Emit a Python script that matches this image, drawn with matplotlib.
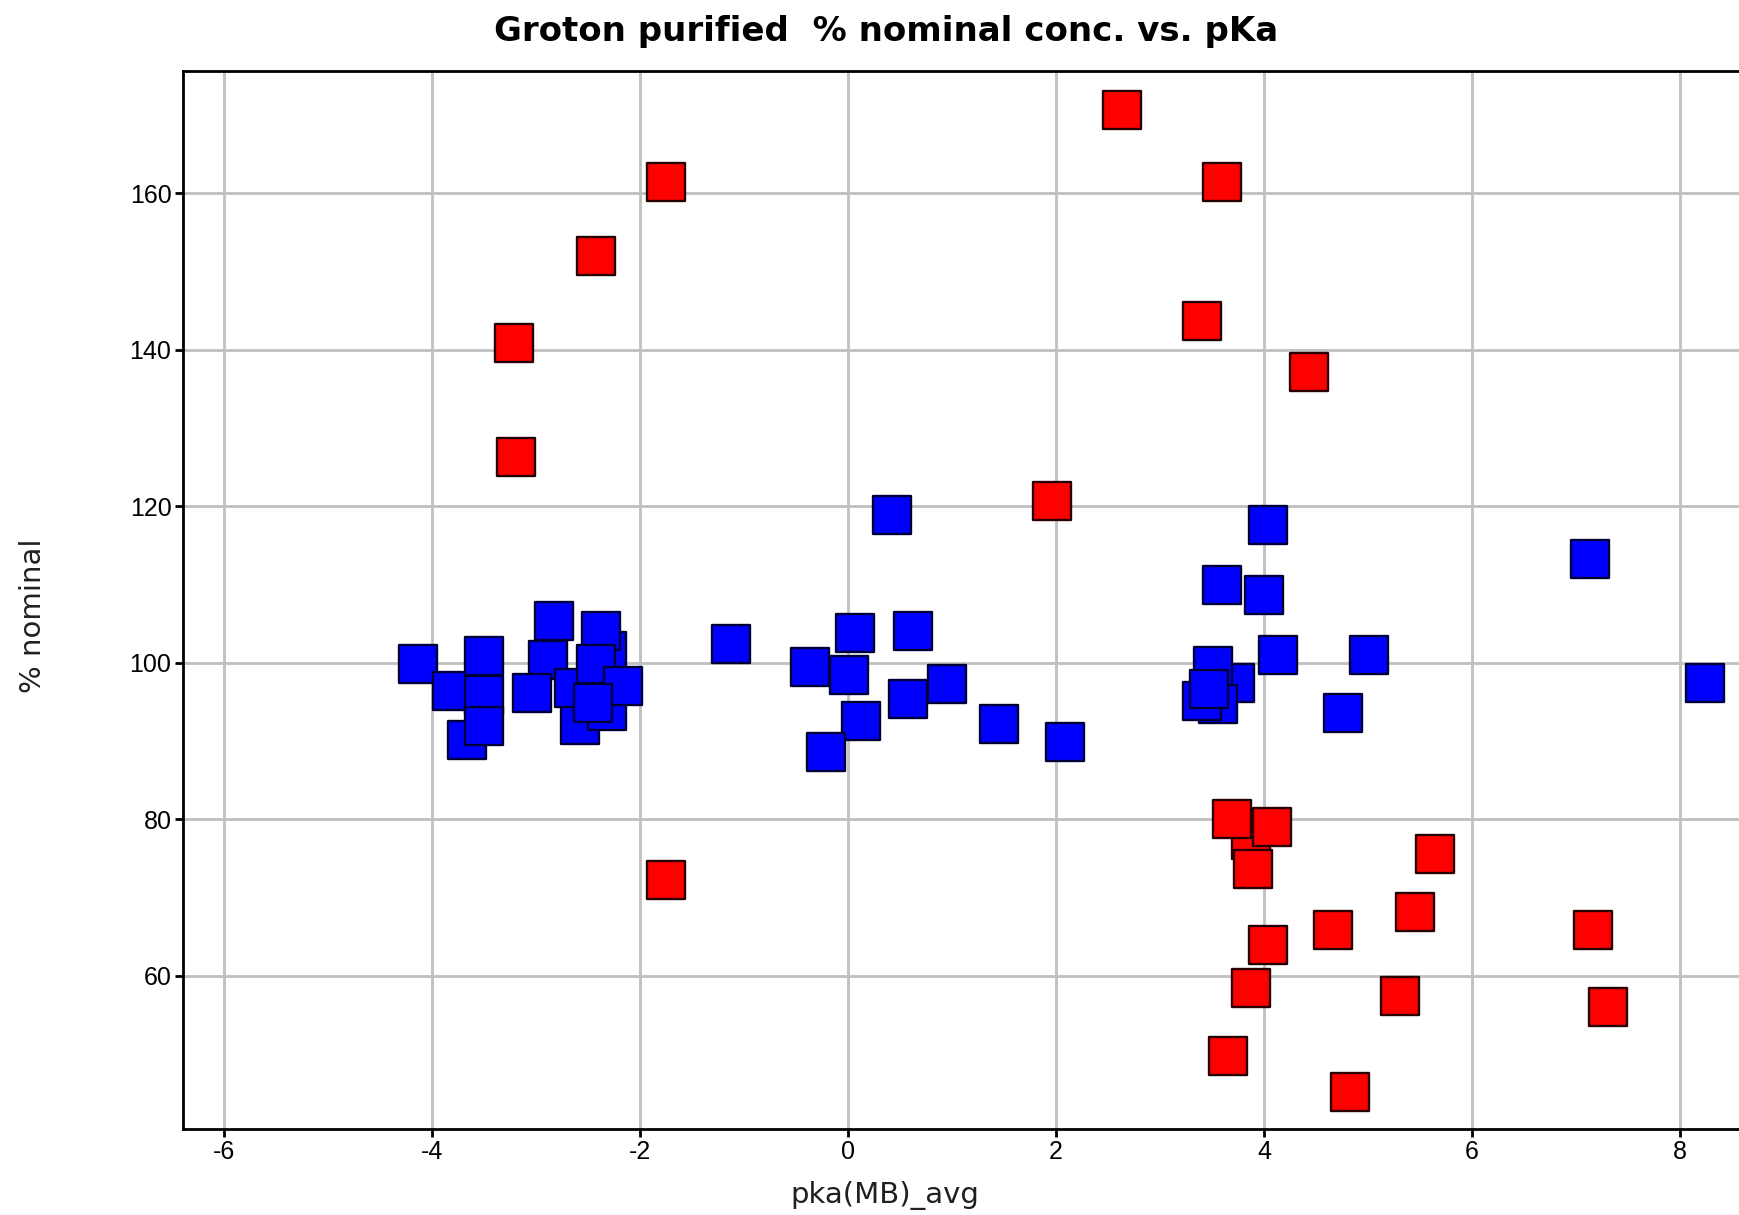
import matplotlib
matplotlib.use("Agg")
import matplotlib.pyplot as plt

# ---- data ----
blue_x = [-4.14, -3.81, -3.50, -3.50, -3.66, -3.50, -2.83, -2.89, -3.04,
          -2.32, -2.38, -2.58, -2.32, -2.64, -2.42, -2.16, -2.45,
          -1.13, -0.37, 0.01, 0.07, 0.12, -0.21, 0.42, 0.62, 0.58, 0.95, 1.45, 2.09,
          4.04, 3.60, 4.00, 4.13, 5.01, 4.76,
          3.72, 3.56, 3.51, 3.40, 3.47, 7.13, 8.24]
blue_y = [99.9, 96.4, 100.9, 95.9, 90.1, 91.9, 105.4, 100.4, 96.2,
          101.5, 104.1, 92.1, 93.8, 96.8, 99.8, 97.0, 94.9,
          102.4, 99.4, 98.5, 103.8, 92.5, 88.6, 118.9, 104.1, 95.4, 97.3, 92.2, 89.9,
          117.6, 109.9, 108.6, 101.0, 101.0, 93.6,
          97.4, 94.7, 99.6, 95.1, 96.7, 113.3, 97.4]

red_x = [2.63, 3.60, -1.75, -2.42, -3.21, -3.19, 3.40, 4.43, 1.96, -1.75,
         3.87, 3.69, 4.08, 3.89, 5.64, 5.45, 4.66, 4.04, 3.87, 5.31, 3.65, 4.83,
         7.16, 7.31]
red_y = [170.6, 161.4, 161.4, 152.0, 140.8, 126.3, 143.7, 137.1, 120.7, 72.3,
         77.4, 80.1, 79.0, 73.7, 75.6, 68.2, 65.8, 64.0, 58.4, 57.4, 49.8, 45.2,
         65.8, 56.0]

x_ticks = [-6, -4, -2, 0, 2, 4, 6, 8]
y_ticks = [60, 80, 100, 120, 140, 160]

title = "Groton purified  % nominal conc. vs. pKa"
x_label = "pka(MB)_avg"
y_label = "% nominal"

# ---- figure ----
W, H = 1739, 1215
fig = plt.figure(figsize=(W / 100, H / 100), dpi=100)
ax = fig.add_axes([182.5 / W, 1 - 1129.3 / H, (W - 182.5) / W, (1129.3 - 71) / H])

ax.set_xlim(-6.40, 8.567)
ax.set_ylim(40.4, 175.6)

ax.set_axisbelow(True)
ax.grid(True, color="#c0c0c0", linewidth=2.0)

msize = 740
ax.scatter(blue_x, blue_y, s=msize, marker="s", facecolor="#0000ff",
           edgecolor="#000038", linewidths=1.7, zorder=3)
ax.scatter(red_x, red_y, s=msize, marker="s", facecolor="#ff0000",
           edgecolor="#280000", linewidths=1.7, zorder=3)

ax.set_xticks(x_ticks)
ax.set_yticks(y_ticks)
ax.set_xticklabels([str(t) for t in x_ticks], family="Liberation Sans", fontsize=18)
ax.set_yticklabels([str(t) for t in y_ticks], family="Liberation Sans", fontsize=18)
ax.tick_params(direction="out", length=6, width=2, color="black", pad=2)

for side in ("left", "bottom", "top"):
    ax.spines[side].set_linewidth(2)
    ax.spines[side].set_color("black")
ax.spines["right"].set_visible(False)

fig.text(886 / W, 1 - 31 / H, title, ha="center", va="center",
         family="DejaVu Sans", fontweight="bold", fontsize=24.5)
fig.text(885 / W, 1 - 1196 / H, x_label, ha="center", va="center",
         family="DejaVu Sans", fontsize=21, color="#202020")
fig.text(33 / W, 1 - 616 / H, y_label, ha="center", va="center", rotation=90,
         family="DejaVu Sans", fontsize=21, color="#202020")

fig.savefig("out.png", dpi=100, facecolor="white")
